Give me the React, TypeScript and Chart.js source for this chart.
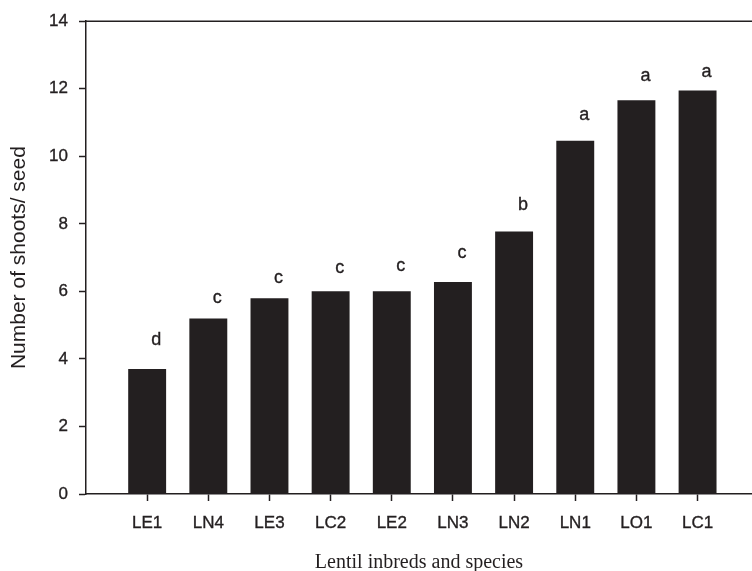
import React, { useEffect, useRef } from "react";
import { Chart, registerables } from "chart.js";

Chart.register(...registerables);

const categories = ["LE1", "LN4", "LE3", "LC2", "LE2", "LN3", "LN2", "LN1", "LO1", "LC1"];
const shootsPerSeed = [3.7, 5.2, 5.8, 6.0, 6.0, 6.28, 7.77, 10.46, 11.66, 11.95];
const groupLetters = ["d", "c", "c", "c", "c", "c", "b", "a", "a", "a"];
const letterLevels = [4.56, 5.8, 6.39, 6.68, 6.74, 7.13, 8.56, 11.21, 12.37, 12.5];
const yTicks = [0, 2, 4, 6, 8, 10, 12, 14];

const INK = "#231f20";
const SANS = "'Liberation Sans', Arial, Helvetica, sans-serif";

const lettersPlugin = {
  id: "letters",
  afterDatasetsDraw(chart: any) {
    const { ctx, scales } = chart;
    const xs = scales.x;
    const ys = scales.y;
    ctx.save();
    ctx.fillStyle = INK;
    ctx.strokeStyle = INK;
    ctx.lineWidth = 0.35;
    ctx.font = `18px ${SANS}`;
    ctx.textAlign = "center";
    ctx.textBaseline = "middle";
    groupLetters.forEach((l, i) => {
      const x = xs.getPixelForValue(i) + 9;
      const y = ys.getPixelForValue(letterLevels[i]);
      ctx.fillText(l, x, y);
      ctx.strokeText(l, x, y);
    });
    ctx.restore();
  },
};

const frameTopPlugin = {
  id: "frameTop",
  afterDraw(chart: any) {
    const { ctx, chartArea } = chart;
    ctx.save();
    ctx.strokeStyle = INK;
    ctx.lineWidth = 1.5;
    ctx.beginPath();
    ctx.moveTo(chartArea.left, chartArea.top);
    ctx.lineTo(chartArea.right, chartArea.top);
    ctx.stroke();
    ctx.restore();
  },
};

export default function App() {
  const ref = useRef<HTMLCanvasElement | null>(null);

  useEffect(() => {
    document.body.style.margin = "0";
    const canvas = ref.current;
    if (!canvas) return;
    const chart = new Chart(canvas, {
      type: "bar",
      data: {
        datasets: [
          {
            label: "Number of shoots/ seed",
            data: shootsPerSeed.map((v, i) => ({ x: i, y: v })),
            backgroundColor: INK,
            borderWidth: 0,
            barPercentage: 0.62,
            categoryPercentage: 1,
          },
        ],
      },
      options: {
        responsive: false,
        animation: false,
        layout: { padding: { top: 18, right: 0, left: 0, bottom: 0 } },
        plugins: { legend: { display: false }, tooltip: { enabled: false } },
        scales: {
          x: {
            type: "linear",
            min: -1,
            max: 9.89,
            offset: false,
            afterBuildTicks: (axis: any) => {
              axis.ticks = categories.map((_, i) => ({ value: i }));
            },
            afterFit: (axis: any) => {
              axis.height = 77;
            },
            grid: {
              offset: false,
              drawOnChartArea: false,
              drawTicks: true,
              tickLength: 7,
              tickWidth: 1.5,
              tickColor: INK,
            },
            border: { display: true, color: INK, width: 1.5 },
            ticks: {
              padding: 12,
              color: INK,
              textStrokeColor: INK,
              textStrokeWidth: 0.35,
              maxRotation: 0,
              autoSkip: false,
              font: { family: SANS, size: 17 },
              callback: (v: any) => categories[Math.round(Number(v))] ?? "",
            },
            title: {
              display: true,
              text: "Lentil inbreds and species",
              color: INK,
              font: { family: "'Liberation Serif', 'Times New Roman', serif", size: 20, lineHeight: 1 },
              padding: { top: 0, bottom: -2 },
            },
          },
          y: {
            min: 0,
            max: 14,
            afterBuildTicks: (axis: any) => {
              axis.ticks = yTicks.map((v) => ({ value: v }));
            },
            afterFit: (axis: any) => {
              axis.width = 86;
            },
            grid: {
              drawOnChartArea: false,
              drawTicks: true,
              tickLength: 7,
              tickWidth: 1.5,
              tickColor: INK,
            },
            border: { display: true, color: INK, width: 1.5 },
            ticks: {
              padding: 11,
              color: INK,
              textStrokeColor: INK,
              textStrokeWidth: 0.35,
              font: { family: SANS, size: 17 },
            },
            title: {
              display: true,
              text: "Number of shoots/ seed",
              color: INK,
              font: { family: SANS, size: 21, lineHeight: 1.2 },
              padding: { top: 7, bottom: 0 },
            },
          },
        },
      },
      plugins: [lettersPlugin, frameTopPlugin],
    });
    return () => chart.destroy();
  }, []);

  return <canvas ref={ref} width={752} height={571} style={{ display: "block" }} />;
}
